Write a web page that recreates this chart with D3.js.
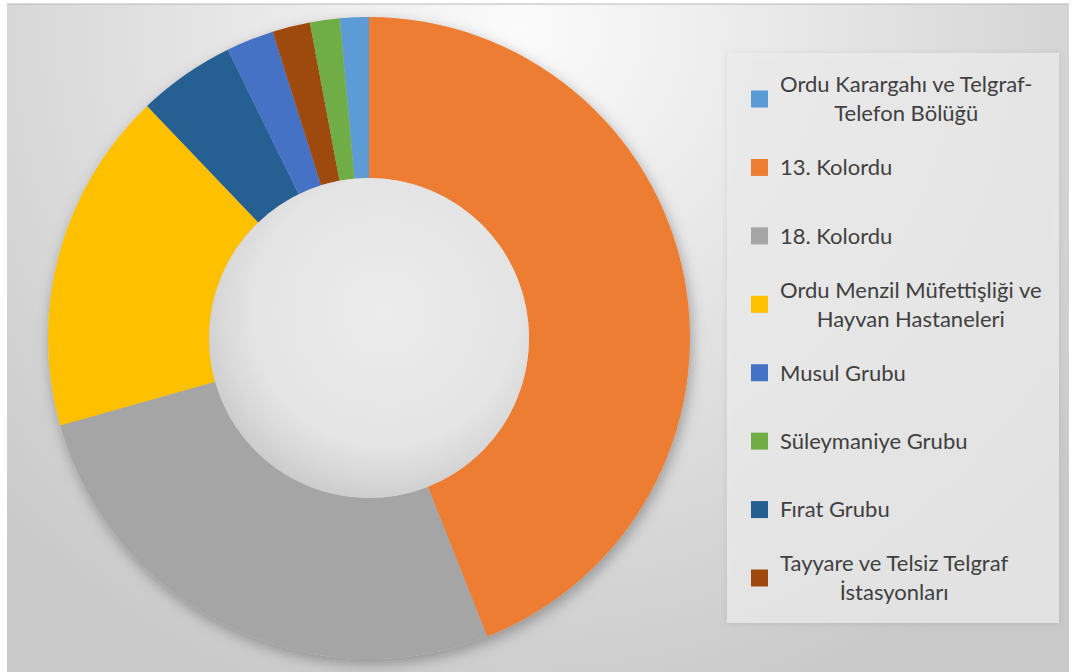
<!DOCTYPE html>
<html>
<head>
<meta charset="utf-8">
<script src="https://cdn.jsdelivr.net/npm/d3@7"></script>
<style>
  body { margin: 0; background: #fff; }
  svg { display: block; }
</style>
</head>
<body>
<div id="chart"></div>
<script>
// legend order (as in the chart's legend)
const categories = [
  "Ordu Karargahı ve Telgraf-Telefon Bölüğü",
  "13. Kolordu",
  "18. Kolordu",
  "Ordu Menzil Müfettişliği ve Hayvan Hastaneleri",
  "Musul Grubu",
  "Süleymaniye Grubu",
  "Fırat Grubu",
  "Tayyare ve Telsiz Telgraf İstasyonları"
];
// share of each unit (%)
const values = [1.45, 44.0, 26.6, 17.25, 2.4, 1.5, 4.9, 1.9];
const colors = ["#5B9BD5", "#ED7D31", "#A5A5A5", "#FFC000", "#4472C4", "#70AD47", "#255E91", "#9E480E"];
// legend text as it wraps in the picture
const legendLines = [
  ["Ordu Karargahı ve Telgraf-", "Telefon Bölüğü"],
  ["13. Kolordu"],
  ["18. Kolordu"],
  ["Ordu Menzil Müfettişliği ve", "Hayvan Hastaneleri"],
  ["Musul Grubu"],
  ["Süleymaniye Grubu"],
  ["Fırat Grubu"],
  ["Tayyare ve Telsiz Telgraf", "İstasyonları"]
];
// clockwise order of the slices, starting with the thin one left of 12 o'clock
const sliceOrder = [0, 1, 2, 3, 6, 4, 7, 5];

const W = 1073, H = 672;
const cx = 369, cy = 338, outerR = 321, innerR = 160;

const svg = d3.select("#chart").append("svg")
  .attr("width", W)
  .attr("height", H);

const defs = svg.append("defs");

// background of the chart area
const bg = defs.append("radialGradient")
  .attr("id", "bg")
  .attr("gradientUnits", "userSpaceOnUse")
  .attr("cx", 520).attr("cy", 30).attr("r", 720);
bg.append("stop").attr("offset", 0).attr("stop-color", "#fbfbfb");
bg.append("stop").attr("offset", 0.45).attr("stop-color", "#e4e4e4");
bg.append("stop").attr("offset", 1).attr("stop-color", "#c9c9c9");

const hole = defs.append("radialGradient")
  .attr("id", "hole")
  .attr("cx", "55%").attr("cy", "42%").attr("r", "60%");
hole.append("stop").attr("offset", 0).attr("stop-color", "#ececec");
hole.append("stop").attr("offset", 0.7).attr("stop-color", "#e4e4e4");
hole.append("stop").attr("offset", 0.85).attr("stop-color", "#d9d9d9");
hole.append("stop").attr("offset", 1).attr("stop-color", "#cbcbcb");

const shadow = defs.append("filter")
  .attr("id", "shadow")
  .attr("x", "-20%").attr("y", "-20%").attr("width", "140%").attr("height", "140%");
shadow.append("feDropShadow")
  .attr("dx", 2).attr("dy", 5)
  .attr("stdDeviation", 7)
  .attr("flood-color", "#000")
  .attr("flood-opacity", 0.3);

const boxShadow = defs.append("filter")
  .attr("id", "boxShadow")
  .attr("x", "-10%").attr("y", "-10%").attr("width", "120%").attr("height", "120%");
boxShadow.append("feDropShadow")
  .attr("dx", 0).attr("dy", 1)
  .attr("stdDeviation", 3)
  .attr("flood-color", "#000")
  .attr("flood-opacity", 0.12);

// chart area
svg.append("rect")
  .attr("x", 7).attr("y", 4)
  .attr("width", 1062).attr("height", 668)
  .attr("fill", "url(#bg)");
svg.append("line")
  .attr("x1", 7).attr("x2", 1069)
  .attr("y1", 4).attr("y2", 4)
  .attr("stroke", "#b8b8b8");

// donut
const slices = sliceOrder.map(i => ({ i: i, value: values[i] }));
const total = d3.sum(values);
const offset = -values[sliceOrder[0]] / total * 2 * Math.PI;

const pie = d3.pie()
  .sort(null)
  .value(d => d.value)
  .startAngle(offset)
  .endAngle(offset + 2 * Math.PI);

const arc = d3.arc()
  .innerRadius(innerR)
  .outerRadius(outerR);

const g = svg.append("g")
  .attr("transform", "translate(" + cx + "," + cy + ")");

g.append("g")
  .attr("filter", "url(#shadow)")
  .selectAll("path")
  .data(pie(slices))
  .join("path")
  .attr("d", arc)
  .attr("fill", d => colors[d.data.i]);

g.append("circle")
  .attr("r", innerR)
  .attr("fill", "url(#hole)");

// legend
const lx = 727, ly = 53, lw = 332, lh = 570;
svg.append("rect")
  .attr("x", lx).attr("y", ly)
  .attr("width", lw).attr("height", lh)
  .attr("fill", "#ececec")
  .attr("fill-opacity", 0.75)
  .attr("filter", "url(#boxShadow)");

const itemY = d3.scaleLinear().domain([0, categories.length - 1]).range([99, 578]);
const lineGap = 29;

const items = svg.append("g").selectAll("g")
  .data(categories)
  .join("g")
  .attr("transform", (d, i) => "translate(0," + itemY(i) + ")");

items.append("rect")
  .attr("x", 751).attr("y", -8.5)
  .attr("width", 17).attr("height", 17)
  .attr("fill", (d, i) => colors[i]);

items.each(function (d, i) {
  const lines = legendLines[i];
  const t = d3.select(this).append("text")
    .attr("font-family", "Lato, 'Open Sans', sans-serif")
    .attr("font-size", 22)
    .attr("fill", "#404040");
  lines.forEach((s, k) => {
    t.append("tspan")
      .attr("y", (k - (lines.length - 1) / 2) * lineGap)
      .attr("dy", "0.36em")
      .text(s);
  });
  // wrapped labels are centred on their widest line
  const widths = t.selectAll("tspan").nodes().map(n => n.getComputedTextLength());
  const maxW = d3.max(widths);
  if (lines.length > 1) {
    t.attr("text-anchor", "middle");
    t.selectAll("tspan").attr("x", 780 + maxW / 2);
  } else {
    t.selectAll("tspan").attr("x", 780);
  }
});
</script>
</body>
</html>
